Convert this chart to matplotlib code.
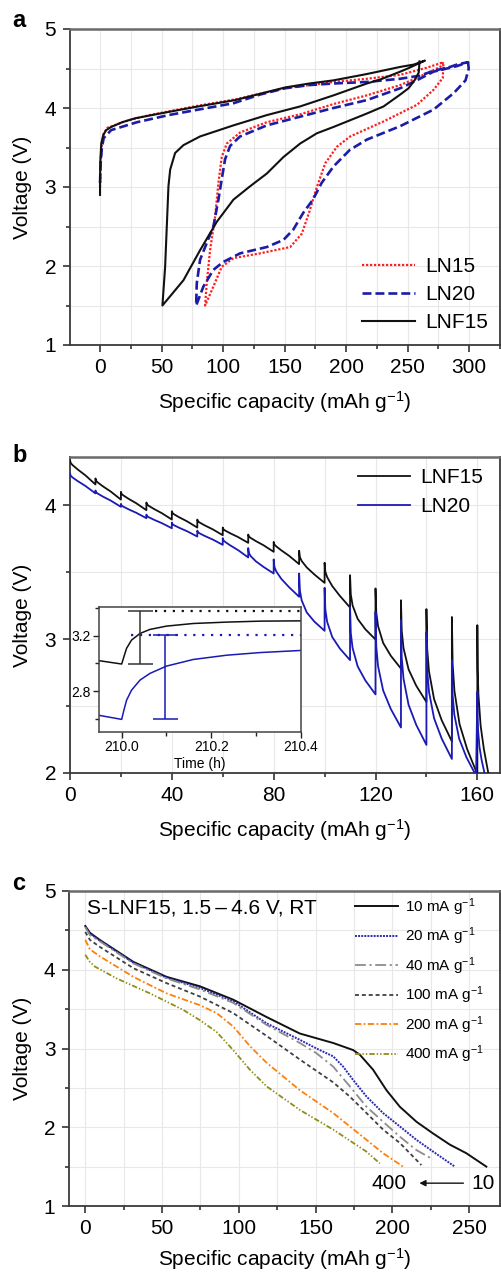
import numpy as np
import matplotlib
matplotlib.use("Agg")
import matplotlib.pyplot as plt
from matplotlib.ticker import MultipleLocator

plt.rcParams['font.family'] = ['Liberation Sans', 'DejaVu Sans']
plt.rcParams['mathtext.fontset'] = 'custom'
plt.rcParams['mathtext.rm'] = 'Liberation Sans'
plt.rcParams['mathtext.default'] = 'regular'

# ---------------- panel a: first cycle, charge + discharge + 2nd charge ----------------
lnf15_cap = [0, 0, 0.3, 1, 2.7, 5, 9, 18, 28.5, 55.6, 80, 109.8, 130, 150.4, 170, 189.7, 216.8, 243.9, 255, 264,
             250, 243.9, 227.6, 216.8, 189.7, 162.6, 135.5, 108.4, 81.3, 67.8, 61, 57, 55.6, 52.9, 50.7,
             67.8, 81.3, 94.9, 108.4, 122, 135.5, 149.1, 162.6, 176.2, 189.7, 216.8, 230.4, 243.9, 250.7, 256, 259, 259.6]
lnf15_v = [2.9, 3.1, 3.35, 3.55, 3.66, 3.72, 3.76, 3.82, 3.87, 3.95, 4.02, 4.10, 4.18, 4.26, 4.31, 4.35, 4.43, 4.52, 4.55, 4.60,
           4.50, 4.46, 4.36, 4.31, 4.16, 4.02, 3.91, 3.78, 3.64, 3.53, 3.43, 3.22, 3.01, 1.99, 1.50,
           1.82, 2.20, 2.56, 2.84, 3.01, 3.17, 3.38, 3.55, 3.68, 3.76, 3.93, 4.02, 4.17, 4.25, 4.36, 4.45, 4.59]

ln15_cap = [0, 0.5, 1.5, 3, 6, 10, 20, 40, 60, 80, 110, 130, 150, 170, 190, 216.8, 243.9, 265.6, 279,
            276.4, 257.3, 243.9, 216.8, 189.7, 162.6, 135.5, 113.8, 103, 98.9, 96.2, 93.5, 89.4, 86.7, 85.4,
            92.1, 98.9, 108.4, 130, 154.5, 164, 169.5, 176.2, 183, 192.5, 203.3, 230.4, 257.5, 271, 278.5, 279]
ln15_v = [3.0, 3.3, 3.55, 3.68, 3.75, 3.77, 3.83, 3.91, 3.97, 4.03, 4.11, 4.18, 4.25, 4.29, 4.33, 4.37, 4.42, 4.51, 4.58,
          4.52, 4.38, 4.29, 4.16, 4.05, 3.92, 3.82, 3.69, 3.55, 3.38, 3.05, 2.62, 2.20, 1.78, 1.50,
          1.74, 1.99, 2.10, 2.16, 2.24, 2.41, 2.66, 3.00, 3.30, 3.51, 3.64, 3.83, 4.04, 4.23, 4.38, 4.58]

ln20_cap = [0, 0.5, 1.5, 3, 9, 30, 55.6, 80, 108.4, 130, 150.4, 170, 189.7, 216.8, 243.9, 260, 271, 284.5, 290, 299,
            290, 271, 257.3, 243.9, 216.8, 189.7, 162.6, 135.5, 113.8, 105.7, 101.6, 98.9, 96.2, 92.1, 86.7, 81.3, 78.6, 78.1,
            84, 92, 100, 113.8, 135.5, 149, 157, 165, 173, 180, 189.7, 203, 216.8, 243.9, 271, 287.5, 297, 299.6, 299]
ln20_v = [3.05, 3.3, 3.5, 3.62, 3.72, 3.82, 3.91, 3.98, 4.06, 4.17, 4.25, 4.29, 4.31, 4.33, 4.37, 4.41, 4.47, 4.52, 4.55, 4.58,
          4.53, 4.46, 4.35, 4.25, 4.10, 4.00, 3.89, 3.78, 3.64, 3.52, 3.35, 3.10, 2.84, 2.50, 2.29, 2.08, 1.78, 1.50,
          1.74, 1.95, 2.05, 2.16, 2.24, 2.33, 2.46, 2.67, 2.84, 3.05, 3.26, 3.47, 3.60, 3.77, 3.98, 4.19, 4.35, 4.50, 4.58]

# ---------------- panel b: GITT discharge ----------------
pulse_step = 10
lnf15_peak = [4.336, 4.20, 4.10, 4.02, 3.955, 3.893, 3.833, 3.781, 3.726, 3.66, 3.57, 3.477, 3.378, 3.29, 3.224, 3.165, 3.104]
lnf15_end = [4.155, 4.042, 3.963, 3.893, 3.833, 3.776, 3.719, 3.652, 3.560, 3.42, 3.236, 2.997, 2.78, 2.53, 2.236, 1.99, 2.0]
lnf15_end_x = [10, 20, 30, 40, 50, 60, 70, 80, 90, 100, 110, 120, 130, 140, 150, 160, 164.3]
ln20_peak = [4.237, 4.11, 4.01, 3.93, 3.87, 3.81, 3.754, 3.68, 3.595, 3.49, 3.383, 3.24, 3.204, 3.142, 3.054, 2.843, 2.607]
ln20_end = [4.088, 3.988, 3.903, 3.828, 3.766, 3.704, 3.61, 3.49, 3.316, 3.062, 2.843, 2.587, 2.34, 2.21, 2.105, 1.98, 2.0]
ln20_end_x = [10, 20, 30, 40, 50, 60, 70, 80, 90, 100, 110, 120, 130, 140, 150, 159.5, 162.8]
# relaxation shape: fraction of segment length vs fraction of voltage drop
seg_pos = [0, 0.03, 0.1, 0.3, 0.6, 1.0]
drop_early = [0, 0.12, 0.2, 0.38, 0.62, 1.0]
drop_mid = [0, 0.2, 0.32, 0.52, 0.74, 1.0]
drop_late = [0, 0.3, 0.47, 0.68, 0.84, 1.0]
lnf15_shape = [0] * 9 + [1] * 2 + [2] * 6
ln20_shape = [0] * 7 + [1] * 2 + [2] * 8

# inset: relaxation around 210 h
t_inset = [209.95, 210.0, 210.005, 210.011, 210.022, 210.041, 210.063, 210.1, 210.16, 210.235, 210.31, 210.4]
lnf15_inset = [3.019, 2.995, 3.048, 3.109, 3.168, 3.216, 3.245, 3.269, 3.288, 3.298, 3.305, 3.307]
ln20_inset = [2.624, 2.595, 2.662, 2.734, 2.806, 2.879, 2.927, 2.98, 3.028, 3.059, 3.078, 3.093]
lnf15_ocv, lnf15_bar_t, lnf15_bar_low = 3.379, 210.041, 2.995
ln20_ocv, ln20_bar_t, ln20_bar_low = 3.207, 210.097, 2.595

# ---------------- panel c: rate capability ----------------
rates = ['10', '20', '40', '100', '200', '400']
c10_cap = [0, 3, 9.5, 31.3, 52.9, 74.6, 96.3, 118, 139.7, 161.4, 174.4, 178.8, 187.4, 196.1, 204.8, 215.6, 226.5, 237.3, 248.1, 261.1]
c10_v = [4.556, 4.47, 4.378, 4.10, 3.91, 3.79, 3.62, 3.40, 3.19, 3.07, 2.98, 2.92, 2.73, 2.47, 2.26, 2.07, 1.92, 1.78, 1.67, 1.50]
c20_cap = [0, 3, 9.5, 31.3, 52.9, 74.6, 96.3, 118, 139.7, 150.5, 161.4, 167.9, 174.4, 183.1, 193.9, 204.8, 215.6, 226.5, 240.6]
c20_v = [4.55, 4.46, 4.37, 4.09, 3.90, 3.77, 3.60, 3.32, 3.11, 3.0, 2.90, 2.77, 2.60, 2.39, 2.18, 2.01, 1.84, 1.69, 1.50]
c40_cap = [0, 3, 9.5, 31.3, 52.9, 74.6, 96.3, 118, 139.7, 150.5, 161.4, 172.2, 183.1, 193.9, 204.8, 215.6, 226.5]
c40_v = [4.54, 4.44, 4.36, 4.08, 3.89, 3.75, 3.58, 3.30, 3.07, 2.94, 2.77, 2.52, 2.26, 2.07, 1.88, 1.71, 1.59]
c100_cap = [0, 3, 9.5, 31.3, 52.9, 74.6, 96.3, 118, 128.9, 139.7, 161.4, 172.2, 183.1, 193.9, 204.8, 218.8]
c100_v = [4.48, 4.38, 4.29, 4.02, 3.83, 3.66, 3.45, 3.16, 3.01, 2.86, 2.57, 2.39, 2.18, 1.97, 1.80, 1.52]
c200_cap = [0, 3, 9.5, 31.3, 52.9, 74.6, 85.5, 96.3, 107.2, 118, 139.7, 161.4, 183.1, 193.9, 206.9]
c200_v = [4.38, 4.26, 4.17, 3.91, 3.70, 3.55, 3.45, 3.28, 3.03, 2.82, 2.47, 2.18, 1.84, 1.67, 1.50]
c400_cap = [0, 3, 6.3, 20.4, 42.1, 63.8, 74.6, 85.5, 96.3, 107.2, 118, 139.7, 161.4, 183.1, 191.8]
c400_v = [4.19, 4.10, 4.04, 3.89, 3.70, 3.49, 3.36, 3.21, 2.98, 2.73, 2.52, 2.22, 1.97, 1.69, 1.54]

FS = 15
XLABEL = r'Specific capacity (mAh g$^{-1}$)'


def style_axes(ax, xmaj, xmin, ymaj, ymin):
    ax.xaxis.set_major_locator(MultipleLocator(xmaj))
    ax.xaxis.set_minor_locator(MultipleLocator(xmin))
    ax.yaxis.set_major_locator(MultipleLocator(ymaj))
    ax.yaxis.set_minor_locator(MultipleLocator(ymin))
    ax.tick_params(which='both', direction='out', width=1.1, color='#222222', labelsize=FS)
    ax.tick_params(which='major', length=5)
    ax.tick_params(which='minor', length=3)
    ax.tick_params(axis='x', which='major', pad=4.5)
    ax.tick_params(axis='y', which='major', pad=5)
    ax.grid(which='both', color='#e8e8e8', lw=0.8, zorder=0)
    ax.set_axisbelow(True)
    for s in ax.spines.values():
        s.set_color('#3a3a3a')
        s.set_linewidth(1.3)
    ax.spines['top'].set_color('#6a6a6a')
    ax.spines['top'].set_linewidth(1.8)


def gitt_curve(peaks, ends, end_x, shape_idx):
    profiles = [drop_early, drop_mid, drop_late]
    xs, vs = [], []
    for i, (p, e, xe) in enumerate(zip(peaks, ends, end_x)):
        x0 = i * pulse_step
        prof = profiles[shape_idx[i]]
        for f, d in zip(seg_pos, prof):
            xs.append(x0 + f * (xe - x0))
            vs.append(p - d * (p - e))
    return xs, vs


fig = plt.figure(figsize=(5.02, 12.72), dpi=100)

# ---------- a ----------
ax_a = fig.add_axes([70 / 502, 1 - 345 / 1272, 430 / 502, 316 / 1272])
ax_a.plot(ln15_cap, ln15_v, color='#ff1f1f', lw=1.6, ls=(0, (1, 0.8)), label='LN15', zorder=3)
ax_a.plot(ln20_cap, ln20_v, color='#1c1ca8', lw=1.9, ls=(0, (3.4, 1.5)), label='LN20', zorder=3)
ax_a.plot(lnf15_cap, lnf15_v, color='#111111', lw=1.5, label='LNF15', zorder=4)
ax_a.set_xlim(-24.4, 325)
ax_a.set_ylim(1, 5)
style_axes(ax_a, 50, 25, 1, 0.5)
ax_a.set_xlabel(XLABEL, fontsize=FS)
ax_a.set_ylabel('Voltage (V)', fontsize=FS)
ax_a.yaxis.set_label_coords(-0.088, 0.5)
ax_a.xaxis.set_label_coords(0.5, -0.14)
ax_a.legend(loc='upper left', bbox_to_anchor=(0.679, 0.278), frameon=False, fontsize=FS,
            handlelength=2.55, handletextpad=0.48, labelspacing=0.43, borderpad=0, borderaxespad=0)

# ---------- b ----------
ax_b = fig.add_axes([70 / 502, 1 - 773 / 1272, 430 / 502, 316 / 1272])
bx, bv = gitt_curve(lnf15_peak, lnf15_end, lnf15_end_x, lnf15_shape)
ax_b.plot(bx, bv, color='#111111', lw=1.3, label='LNF15', zorder=3)
bx2, bv2 = gitt_curve(ln20_peak, ln20_end, ln20_end_x, ln20_shape)
ax_b.plot(bx2, bv2, color='#1a1ab4', lw=1.3, label='LN20', zorder=3)
ax_b.set_xlim(0, 168.9)
ax_b.set_ylim(2, 4.36)
style_axes(ax_b, 40, 20, 1, 0.5)
ax_b.set_xlabel(XLABEL, fontsize=FS)
ax_b.set_ylabel('Voltage (V)', fontsize=FS)
ax_b.yaxis.set_label_coords(-0.088, 0.5)
ax_b.xaxis.set_label_coords(0.5, -0.14)
ax_b.legend(loc='upper left', bbox_to_anchor=(0.67, 0.965), frameon=False, fontsize=FS,
            handlelength=2.5, handletextpad=0.5, labelspacing=0.5, borderpad=0, borderaxespad=0)

# inset
ax_i = fig.add_axes([99.3 / 502, 1 - 731.7 / 1272, 201.4 / 502, 124.4 / 1272])
ax_i.plot(t_inset, lnf15_inset, color='#111111', lw=1.1)
ax_i.plot(t_inset, ln20_inset, color='#1a1ab4', lw=1.1)
ax_i.plot([210.075, 210.4], [lnf15_ocv, lnf15_ocv], color='#111111', lw=1.6, ls=(0, (1, 3)))
ax_i.plot([210.02, 210.4], [ln20_ocv, ln20_ocv], color='#1a1ab4', lw=1.6, ls=(0, (1, 3)))
ax_i.errorbar([lnf15_bar_t], [(lnf15_ocv + lnf15_bar_low) / 2], yerr=[(lnf15_ocv - lnf15_bar_low) / 2],
              color='#333333', lw=1.1, capsize=9, capthick=1.1, fmt='none')
ax_i.errorbar([ln20_bar_t], [(ln20_ocv + ln20_bar_low) / 2], yerr=[(ln20_ocv - ln20_bar_low) / 2],
              color='#1a1ab4', lw=1.1, capsize=9, capthick=1.1, fmt='none')
ax_i.set_xlim(209.95, 210.4)
ax_i.set_ylim(2.506, 3.405)
ax_i.set_xticks([210.0, 210.2, 210.4])
ax_i.set_xticklabels(['210.0', '210.2', '210.4'])
ax_i.xaxis.set_minor_locator(MultipleLocator(0.1))
ax_i.set_yticks([2.8, 3.2])
ax_i.yaxis.set_minor_locator(MultipleLocator(0.2))
ax_i.tick_params(which='both', direction='out', width=1, labelsize=10, color='#222222')
ax_i.tick_params(which='major', length=4, pad=2)
ax_i.tick_params(which='minor', length=3)
for s in ax_i.spines.values():
    s.set_color('#444444')
    s.set_linewidth(1.1)
ax_i.set_xlabel('Time (h)', fontsize=10, labelpad=2)

# ---------- c ----------
ax_c = fig.add_axes([69.3 / 502, 1 - 1206 / 1272, 430.7 / 502, 315 / 1272])
c_series = [(c10_cap, c10_v, '#111111', '-', 1.4),
            (c20_cap, c20_v, '#2a2ab0', (0, (1, 0.6)), 1.4),
            (c40_cap, c40_v, '#8c8c8c', (0, (6, 2, 1.2, 2)), 1.3),
            (c100_cap, c100_v, '#404040', (0, (2.2, 1.6)), 1.3),
            (c200_cap, c200_v, '#ff7f0a', (0, (3.5, 1.3, 1, 1.3)), 1.3),
            (c400_cap, c400_v, '#8f8f18', (0, (3, 1.1, 0.8, 1.1, 0.8, 1.1)), 1.3)]
for (cx, cv, col, ls, lw), r in zip(c_series, rates):
    ax_c.plot(cx, cv, color=col, ls=ls, lw=lw, label=r + r' mA g$^{-1}$', zorder=3)
ax_c.set_xlim(-10.4, 270)
ax_c.set_ylim(1, 5)
style_axes(ax_c, 50, 25, 1, 0.5)
ax_c.set_xlabel(XLABEL, fontsize=FS)
ax_c.set_ylabel('Voltage (V)', fontsize=FS)
ax_c.yaxis.set_label_coords(-0.086, 0.5)
ax_c.xaxis.set_label_coords(0.5, -0.127)
ax_c.legend(loc='upper left', bbox_to_anchor=(0.663, 0.984), frameon=False, fontsize=11,
            handlelength=2.8, handletextpad=0.46, labelspacing=0.52, borderpad=0, borderaxespad=0)
ax_c.text(1.3, 4.78, 'S-LNF15, 1.5\u2009\u2013\u20094.6 V, RT', fontsize=FS, va='center', ha='left')
ax_c.annotate('', xy=(215.7, 1.29), xytext=(248, 1.29),
              arrowprops=dict(arrowstyle='-|>', color='#111111', lw=1.0, mutation_scale=9))
ax_c.text(209.4, 1.29, '400', fontsize=FS, ha='right', va='center')
ax_c.text(251.6, 1.29, '10', fontsize=FS, ha='left', va='center')

# panel letters
fig.text(12 / 502, 1 - 27 / 1272, 'a', fontsize=17, fontweight='bold', va='baseline')
fig.text(12 / 502, 1 - 462 / 1272, 'b', fontsize=17, fontweight='bold', va='baseline')
fig.text(12 / 502, 1 - 890 / 1272, 'c', fontsize=17, fontweight='bold', va='baseline')

fig.savefig('out.png', dpi=100)
